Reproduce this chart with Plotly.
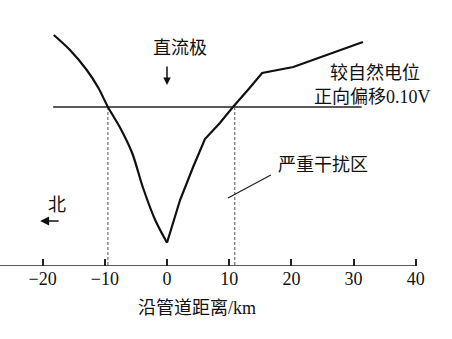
import plotly.graph_objects as go

# Potential curve along the pipeline (arbitrary potential units, axis at 0)
left_km = [-18.2, -15.6, -12.9, -11.0, -9.5, -7.6, -5.6, -3.9, -1.9, 0.0]
left_pot = [230.7, 215.7, 195.7, 177.4, 158.7, 138.7, 112.7, 78.7, 45.7, 23.0]
right_km = [0.0, 2.1, 4.2, 6.1, 8.5, 10.6, 13.0, 15.3, 20.3, 25.7, 31.5]
right_pot = [23.0, 65.7, 98.7, 126.7, 142.7, 158.7, 175.7, 192.7, 198.7, 210.7, 223.7]

threshold_x = [-18.3, 31.3]
threshold_level = 158.7
cross_left = -9.5
cross_right = 10.9
leader_x = [9.8, 16.7]
leader_y = [67.7, 90.7]

tick_vals = [-30, -20, -10, 0, 10, 20, 30, 40]
tick_text = ["\u221230", "\u221220", "\u221210", "0", "10", "20", "30", "40"]

FONT = "Liberation Serif, Noto Sans CJK SC"

fig = go.Figure()
fig.add_trace(go.Scatter(x=threshold_x, y=[threshold_level, threshold_level], mode="lines",
                         line=dict(color="#222", width=1.5), showlegend=False))
for cx in (cross_left, cross_right):
    fig.add_trace(go.Scatter(x=[cx, cx], y=[threshold_level, 0], mode="lines",
                             line=dict(color="#555", width=1, dash="3px,2px"), showlegend=False))
fig.add_trace(go.Scatter(x=left_km, y=left_pot, mode="lines",
                         line=dict(color="#111", width=2.2, shape="spline", smoothing=0.8), showlegend=False))
fig.add_trace(go.Scatter(x=right_km, y=right_pot, mode="lines",
                         line=dict(color="#111", width=2.2), showlegend=False))
fig.add_trace(go.Scatter(x=leader_x, y=leader_y, mode="lines",
                         line=dict(color="#222", width=1.3), showlegend=False))
# axis line
fig.add_trace(go.Scatter(x=[-27, 40], y=[0, 0], mode="lines",
                         line=dict(color="#222", width=1.5), showlegend=False))

def txt(x, y, s, size=18, yref="y"):
    fig.add_annotation(x=x, y=y, yref=yref, text=s, showarrow=False,
                       xanchor="center", yanchor="middle",
                       font=dict(family=FONT, size=size, color="#111"))

txt(2.1, 217.7, "直流极")
txt(33.4, 192.7, "较自然电位")
txt(33.0, 168.7, "正向偏移0.10V")
txt(25.1, 100.7, "严重干扰区")
txt(-17.7, 60.7, "北")
txt(4.8, 0.0914, "沿管道距离/km", yref="paper")

# arrow below 直流极
fig.add_annotation(x=0, y=180.7, ax=0, ay=-20, axref="pixel", ayref="pixel",
                   text="", showarrow=True, arrowhead=2, arrowsize=1, arrowwidth=1.5, arrowcolor="#111")
# arrow pointing north (left)
fig.add_annotation(x=-20.4, y=44.7, ax=20, ay=0, axref="pixel", ayref="pixel",
                   text="", showarrow=True, arrowhead=2, arrowsize=1.2, arrowwidth=1.5, arrowcolor="#111")

fig.update_layout(
    width=452, height=339, margin=dict(l=0, r=0, t=0, b=0),
    paper_bgcolor="white", plot_bgcolor="white",
    xaxis=dict(range=[-26.85, 45.82], tickvals=tick_vals, ticktext=tick_text,
               ticks="inside", ticklen=7, tickwidth=1.5, tickcolor="#222",
               showgrid=False, zeroline=False, showline=False,
               tickfont=dict(family=FONT, size=18, color="#111")),
    yaxis=dict(range=[0, 265.7], domain=[0.2162, 1], visible=False),
)
fig.write_html("out.html")
